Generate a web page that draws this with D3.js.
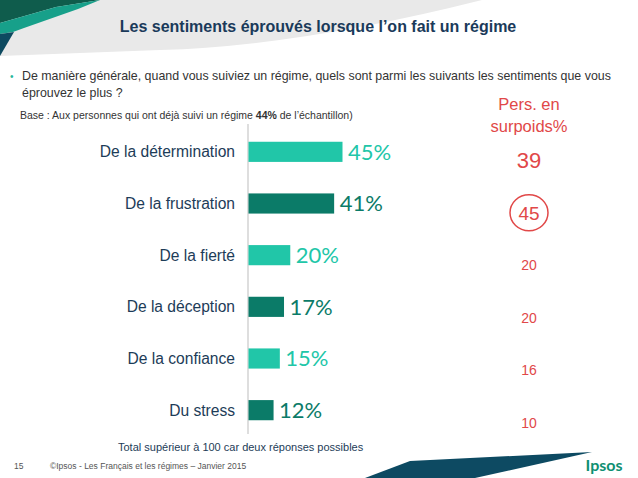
<!DOCTYPE html>
<html>
<head>
<meta charset="utf-8">
<script src="https://cdn.jsdelivr.net/npm/d3@7"></script>
<style>
  body { margin: 0; background: #fff; }
  svg { display: block; }
</style>
</head>
<body>
<div id="chart"></div>
<script>
// data
const categories = ["De la détermination", "De la frustration", "De la fierté", "De la déception", "De la confiance", "Du stress"];
const values = [45, 41, 20, 17, 15, 12];
const overweight = [39, 45, 20, 20, 16, 10];

const W = 638, H = 478;
const light = "#21c6a8", dark = "#0b7b68", navy = "#1d3c58", red = "#e14848";

const svg = d3.select("#chart").append("svg")
    .attr("width", W)
    .attr("height", H);

// background decorations
svg.append("path")
   .attr("d", "M0,0 L482,0 Q300,46 160,50 L0,56 Z")
   .attr("fill", "#e9e9e9");
svg.append("path")
   .attr("d", "M0,0 L100,0 L56,7 L0,23 Z")
   .attr("fill", "#0f5c4c");
svg.append("path")
   .attr("d", "M0,23 L56,7 L100,0 L78,9 L24,28 L13,32 L0,34 Z")
   .attr("fill", "#17a08a");
svg.append("path")
   .attr("d", "M0,34 L14,32 L0,56 Z")
   .attr("fill", "#0d4a60");
svg.append("path")
   .attr("d", "M365,478 L410,461 L592,452 L475,478 Z")
   .attr("fill", "#0d4a62");

// title
svg.append("text")
   .attr("x", 318).attr("y", 32)
   .attr("text-anchor", "middle")
   .attr("font-family", "Liberation Sans, Arial, sans-serif")
   .attr("font-size", 16).attr("font-weight", "bold")
   .attr("fill", "#1a3a5a")
   .text("Les sentiments éprouvés lorsque l’on fait un régime");

// question
svg.append("text")
   .attr("x", 10).attr("y", 80)
   .attr("font-family", "Liberation Sans, Arial, sans-serif")
   .attr("font-size", 10).attr("fill", "#27b89c")
   .text("•");
const q = svg.append("text")
   .attr("font-family", "Liberation Sans, Arial, sans-serif")
   .attr("font-size", 12.4).attr("fill", "#333");
q.append("tspan").attr("x", 22).attr("y", 80)
   .text("De manière générale, quand vous suiviez un régime, quels sont parmi les suivants les sentiments que vous");
q.append("tspan").attr("x", 22).attr("y", 97)
   .text("éprouvez le plus ?");

const base = svg.append("text")
   .attr("x", 20).attr("y", 119)
   .attr("font-family", "Liberation Sans, Arial, sans-serif")
   .attr("font-size", 10.5).attr("fill", "#333");
base.append("tspan").text("Base : Aux personnes qui ont déjà suivi un régime ");
base.append("tspan").attr("font-weight", "bold").text("44%");
base.append("tspan").text(" de l’échantillon)");

// scales
const x = d3.scaleLinear().domain([0, 45]).range([248, 342]);
const y = d3.scaleBand().domain(categories).range([126, 436])
    .paddingInner(0.61).paddingOuter(0.305);

// axis line
svg.append("line")
   .attr("x1", x(0)).attr("x2", x(0))
   .attr("y1", 124).attr("y2", 434)
   .attr("stroke", "#bdbdbd").attr("stroke-width", 1);

// bars
svg.selectAll("rect.bar")
   .data(values)
   .enter().append("rect")
   .attr("class", "bar")
   .attr("x", x(0) + 0.5)
   .attr("y", (d, i) => y(categories[i]))
   .attr("width", d => x(d) - x(0))
   .attr("height", y.bandwidth())
   .attr("fill", (d, i) => i % 2 ? dark : light);

// value labels
svg.selectAll("text.val")
   .data(values)
   .enter().append("text")
   .attr("class", "val")
   .attr("x", d => x(d) + 6)
   .attr("y", (d, i) => y(categories[i]) + y.bandwidth() / 2)
   .attr("dy", "0.36em")
   .attr("font-family", "Lato, sans-serif")
   .attr("font-size", 22)
   .attr("fill", (d, i) => i % 2 ? dark : light)
   .text(d => d + "%");

// category labels
svg.selectAll("text.cat")
   .data(categories)
   .enter().append("text")
   .attr("class", "cat")
   .attr("x", 235)
   .attr("y", d => y(d) + y.bandwidth() / 2)
   .attr("dy", "0.36em")
   .attr("text-anchor", "end")
   .attr("font-family", "Liberation Sans, Arial, sans-serif")
   .attr("font-size", 15.6)
   .attr("fill", navy)
   .text(d => d);

// overweight column
const head = svg.append("text")
   .attr("text-anchor", "middle")
   .attr("font-family", "Liberation Sans, Arial, sans-serif")
   .attr("font-size", 16.5).attr("fill", red);
head.append("tspan").attr("x", 529).attr("y", 110).text("Pers. en");
head.append("tspan").attr("x", 529).attr("y", 132).text("surpoids%");

const y2 = d3.scaleBand().domain(categories).range([134, 449]);
const cx = 529;

svg.append("ellipse")
   .attr("cx", cx)
   .attr("cy", y2(categories[1]) + y2.bandwidth() / 2)
   .attr("rx", 19).attr("ry", 18)
   .attr("fill", "none")
   .attr("stroke", red).attr("stroke-width", 1.5);

svg.selectAll("text.ow")
   .data(overweight)
   .enter().append("text")
   .attr("class", "ow")
   .attr("x", cx)
   .attr("y", (d, i) => y2(categories[i]) + y2.bandwidth() / 2)
   .attr("dy", "0.36em")
   .attr("text-anchor", "middle")
   .attr("font-family", "Liberation Sans, Arial, sans-serif")
   .attr("font-size", (d, i) => i === 0 ? 22 : i === 1 ? 19 : 14)
   .attr("fill", red)
   .text(d => d);

// footer
svg.append("text")
   .attr("x", 118).attr("y", 451)
   .attr("font-family", "Liberation Sans, Arial, sans-serif")
   .attr("font-size", 11).attr("fill", navy)
   .text("Total supérieur à 100 car deux réponses possibles");
svg.append("text")
   .attr("x", 14).attr("y", 469)
   .attr("font-family", "Liberation Sans, Arial, sans-serif")
   .attr("font-size", 8.5).attr("fill", "#555")
   .text("15");
svg.append("text")
   .attr("x", 50).attr("y", 469)
   .attr("font-family", "Liberation Sans, Arial, sans-serif")
   .attr("font-size", 8.5).attr("fill", "#555")
   .text("©Ipsos - Les Français et les régimes –  Janvier 2015");
svg.append("text")
   .attr("x", 604).attr("y", 471)
   .attr("text-anchor", "middle")
   .attr("font-family", "Lato, sans-serif")
   .attr("font-size", 16).attr("font-weight", "bold")
   .attr("fill", "#0f8f72")
   .text("Ipsos");
</script>
</body>
</html>
